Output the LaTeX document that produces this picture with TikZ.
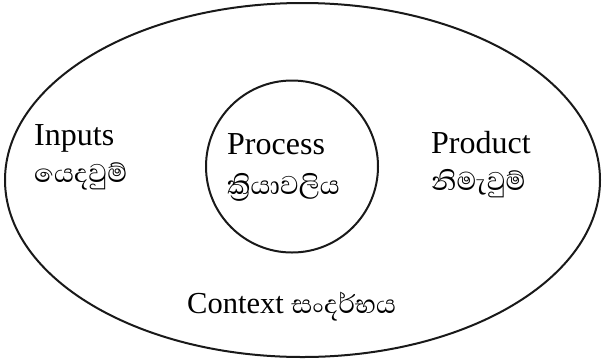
\documentclass[tikz,border=0pt]{standalone}
\usepackage{fontspec}
\usetikzlibrary{shapes.geometric}
\setmainfont{Liberation Serif}
\newfontfamily\sinhfont[Script=Sinhala]{Abhaya Libre}
\begin{document}
\begin{tikzpicture}[x=1pt,y=-1pt,
  lat/.style={anchor=base west,inner sep=0pt,font=\fontsize{32}{36}\selectfont},
  sin/.style={anchor=base west,inner sep=0pt,font=\fontsize{33}{36}\sinhfont},
  ring/.style={draw=black!90,line width=2pt}]
\useasboundingbox (0,0) rectangle (602,360);
\node[ring,ellipse,minimum width=595pt,minimum height=354pt,inner sep=0pt] (context) at (302.5,180) {};
\node[ring,circle,minimum size=172pt,inner sep=0pt] (process) at (292,166.5) {};
\node[lat] (inputs) at (34,145) {Inputs};
\node[sin] (inputsS) at (34,182) {යෙදවුම්};
\node[lat] (proc) at (227,154) {Process};
\node[sin] (procS) at (227,194) {ක්^^^^200dරියාවලිය};
\node[lat] (product) at (431,153) {Product};
\node[sin] (productS) at (431,190) {නිමැවුම්};
\node[lat,font=\fontsize{30.5}{36}\selectfont] (ctx) at (187,313) {Context {\fontsize{33}{36}\sinhfont සංදර්භය}};
\end{tikzpicture}
\end{document}
